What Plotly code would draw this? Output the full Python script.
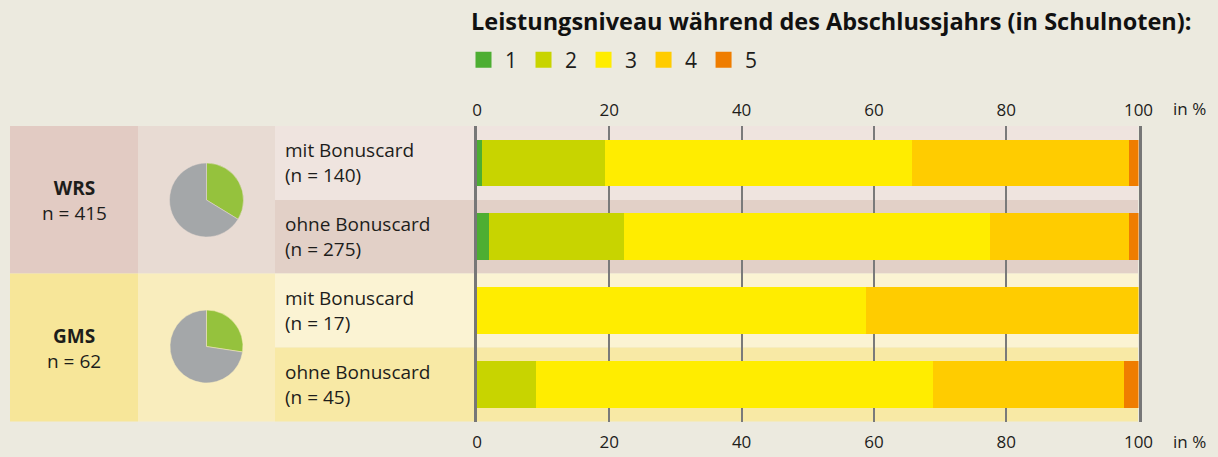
import plotly.graph_objects as go

# ---------------- data ----------------
groups = ["WRS", "GMS"]
group_n = [415, 62]
row_labels = ["mit Bonuscard", "ohne Bonuscard", "mit Bonuscard", "ohne Bonuscard"]
row_n = [140, 275, 17, 45]
grades = ["1", "2", "3", "4", "5"]
# percentage share per grade (rows in order above)
grade1 = [0.7, 1.8, 0.0, 0.0]
grade2 = [18.6, 20.4, 0.0, 8.9]
grade3 = [46.4, 55.3, 58.8, 60.0]
grade4 = [32.9, 21.1, 41.2, 28.9]
grade5 = [1.4, 1.4, 0.0, 2.2]
pie_wrs = [140, 275]   # mit / ohne Bonuscard
pie_gms = [17, 45]
tick_vals = [0, 20, 40, 60, 80, 100]

# ---------------- style ----------------
W, H = 1218, 457
BG = "#ECEADF"
FONT = "Open Sans"
TXT = "#1d1d1b"
grade_colors = ["#4DAE32", "#C8D400", "#FFED00", "#FFCC00", "#EF7D00"]
pie_colors = ["#95C23D", "#A4A7A9"]


def px(x):
    return x / W


def py(y):
    return 1 - y / H


fig = go.Figure()
rows = list(range(4))
series = [grade1, grade2, grade3, grade4, grade5]
for g, vals, col in zip(grades, series, grade_colors):
    fig.add_trace(go.Bar(
        y=rows, x=vals, orientation="h", name=g, marker=dict(color=col, line=dict(width=0)),
        width=0.633, showlegend=False, legendgroup=g, hoverinfo="x+name",
    ))
    # legend entry (square swatch)
    fig.add_trace(go.Scatter(
        x=[None], y=[None], mode="markers", name=g, legendgroup=g,
        marker=dict(symbol="square", size=16, color=col), xaxis="x2", showlegend=True,
    ))

# pies
fig.add_trace(go.Pie(values=pie_wrs, labels=["mit Bonuscard", "ohne Bonuscard"], sort=False,
                     direction="clockwise", rotation=0, textinfo="none", showlegend=False,
                     marker=dict(colors=pie_colors, line=dict(color="#E8DBD3", width=0.5)),
                     domain=dict(x=[px(169), px(244)], y=[py(237), py(163)])))
fig.add_trace(go.Pie(values=pie_gms, labels=["mit Bonuscard", "ohne Bonuscard"], sort=False,
                     direction="clockwise", rotation=0, textinfo="none", showlegend=False,
                     marker=dict(colors=pie_colors, line=dict(color="#F9EDBD", width=0.5)),
                     domain=dict(x=[px(170), px(243)], y=[py(383), py(310)])))

shapes = []


def rect(x0, y0, x1, y1, color):
    shapes.append(dict(type="rect", xref="paper", yref="paper", x0=px(x0), x1=px(x1),
                       y0=py(y1), y1=py(y0), fillcolor=color, line=dict(width=0), layer="below"))


# WRS block
rect(10, 126, 138, 273.5, "#E2CBC3")
rect(138, 126, 275, 273.5, "#E8DBD3")
rect(275, 126, 1138, 200, "#EFE4DF")
rect(275, 200, 1138, 273.5, "#E2D0C7")
# GMS block
rect(10, 273.5, 138, 421.5, "#F7E699")
rect(138, 273.5, 275, 421.5, "#F9EDBD")
rect(275, 273.5, 1138, 347.5, "#FBF3D3")
rect(275, 347.5, 1138, 421.5, "#F8E9A5")

ann = []
# group labels
for i, (g, n) in enumerate(zip(groups, group_n)):
    yc = [200, 348][i]
    ann.append(dict(x=px(74), y=py(yc), xref="paper", yref="paper", showarrow=False,
                    text=f"<b>{g}</b><br>n = {n}", font=dict(size=19, color=TXT, family=FONT),
                    align="center", xanchor="center", yanchor="middle"))
# row labels
row_centers = [163, 236.5, 310.5, 384.5]
for lab, n, yc in zip(row_labels, row_n, row_centers):
    ann.append(dict(x=px(283), y=py(yc), xref="paper", yref="paper", showarrow=False,
                    text=f"{lab}<br>(n = {n})", font=dict(size=19, color=TXT, family=FONT),
                    align="left", xanchor="left", yanchor="middle"))
# unit labels
for yc in [108, 441]:
    ann.append(dict(x=px(1171), y=py(yc), xref="paper", yref="paper", showarrow=False,
                    text="in %", font=dict(size=17, color=TXT, family=FONT),
                    xanchor="left", yanchor="middle"))

axis_common = dict(range=[0, 100], tickvals=tick_vals, ticks="", fixedrange=True,
                   tickfont=dict(size=17, color=TXT, family=FONT), automargin=False,
                   domain=[px(477), px(1138.5)])

fig.update_layout(
    width=W, height=H, autosize=False,
    margin=dict(l=0, r=0, t=0, b=0, pad=0),
    paper_bgcolor=BG, plot_bgcolor="rgba(0,0,0,0)",
    barmode="stack", bargap=0,
    font=dict(family=FONT, color=TXT),
    title=dict(text="<b>Leistungsniveau während des Abschlussjahrs (in Schulnoten):</b>",
               x=px(471), xanchor="left", y=py(22), yanchor="middle", xref="paper", yref="paper",
               font=dict(size=23.5, color="#111", family=FONT)),
    legend=dict(orientation="h", x=px(462), xanchor="left", y=py(60), yanchor="middle",
                font=dict(size=21, color=TXT, family=FONT), bgcolor="rgba(0,0,0,0)",
                itemwidth=33, traceorder="normal", itemclick=False, itemdoubleclick=False),
    xaxis=dict(side="top", showgrid=True, gridcolor="#7A7A7A", gridwidth=2, zeroline=False,
               showline=False, anchor="y", ticklabelstandoff=6, **axis_common),
    xaxis2=dict(side="bottom", overlaying="x", anchor="y", showgrid=False, zeroline=False,
                showline=False, ticklabelstandoff=8, **axis_common),
    yaxis=dict(range=[3.5, -0.5], showticklabels=False, showgrid=False, zeroline=False,
               showline=True, mirror=True, linecolor="#777777", linewidth=3, automargin=False,
               domain=[py(421.5), py(126)], fixedrange=True),
    shapes=shapes, annotations=ann,
)

fig.write_html("out.html", config={"displayModeBar": False},
               post_script="document.body.style.margin='0';document.body.style.overflow='hidden';")
